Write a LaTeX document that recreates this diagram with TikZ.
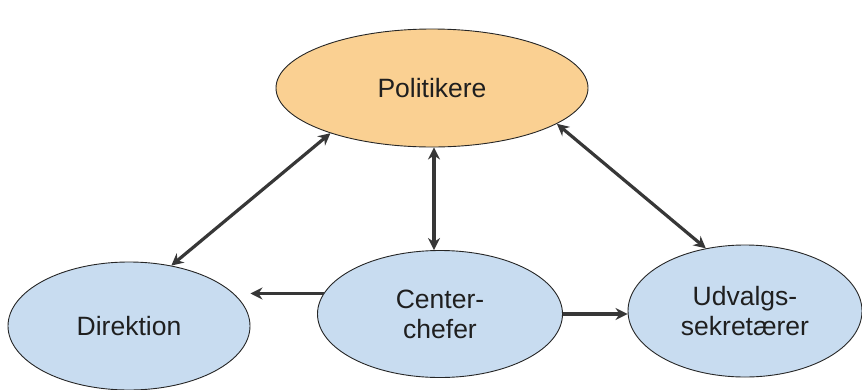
\documentclass[tikz,border=0pt]{standalone}
\usepackage{fontspec}
\setmainfont{Liberation Sans}
\usetikzlibrary{shapes.geometric,arrows.meta,calc}
\definecolor{peach}{RGB}{250,208,146}
\definecolor{lblue}{RGB}{200,220,240}
\definecolor{arrowgray}{RGB}{55,55,55}
\tikzset{
  oval/.style={ellipse, draw=black!85, line width=0.9pt, inner sep=0pt, align=center,
    font=\fontsize{26.5}{30}\selectfont, text=black!88},
  link/.style={draw=arrowgray, line width=3.2pt, {Stealth[length=12pt,width=12pt]}-{Stealth[length=12pt,width=12pt]}},
  onelink/.style={draw=arrowgray, line width=3.2pt, -{Stealth[length=12pt,width=12pt]}}
}
\begin{document}
\begin{tikzpicture}[x=1pt,y=-1pt]
\useasboundingbox (0,0) rectangle (862,389);
\node[oval, fill=peach, minimum width=312pt, minimum height=118pt] (P) at (432,88) {Politikere};
\node[oval, fill=lblue, minimum width=242pt, minimum height=128pt] (D) at (129,326) {Direktion};
\node[oval, fill=lblue, minimum width=245pt, minimum height=127pt] (C) at (440,314) {Center-\\chefer};
\node[oval, fill=lblue, minimum width=234pt, minimum height=132pt] (U) at (745,311) {Udvalgs-\\sekretærer};
\draw[link] (P.204) -- (D.55);
\draw[link] (P.344) -- (U.122);
\draw[link] ([xshift=2pt]P.south) -- ([xshift=2pt]P.south |- C.north);
\draw[onelink] (C.170) -- (C.170 -| D.east);
\draw[onelink] (C.east) -- (C.east -| U.west);
\end{tikzpicture}
\end{document}
